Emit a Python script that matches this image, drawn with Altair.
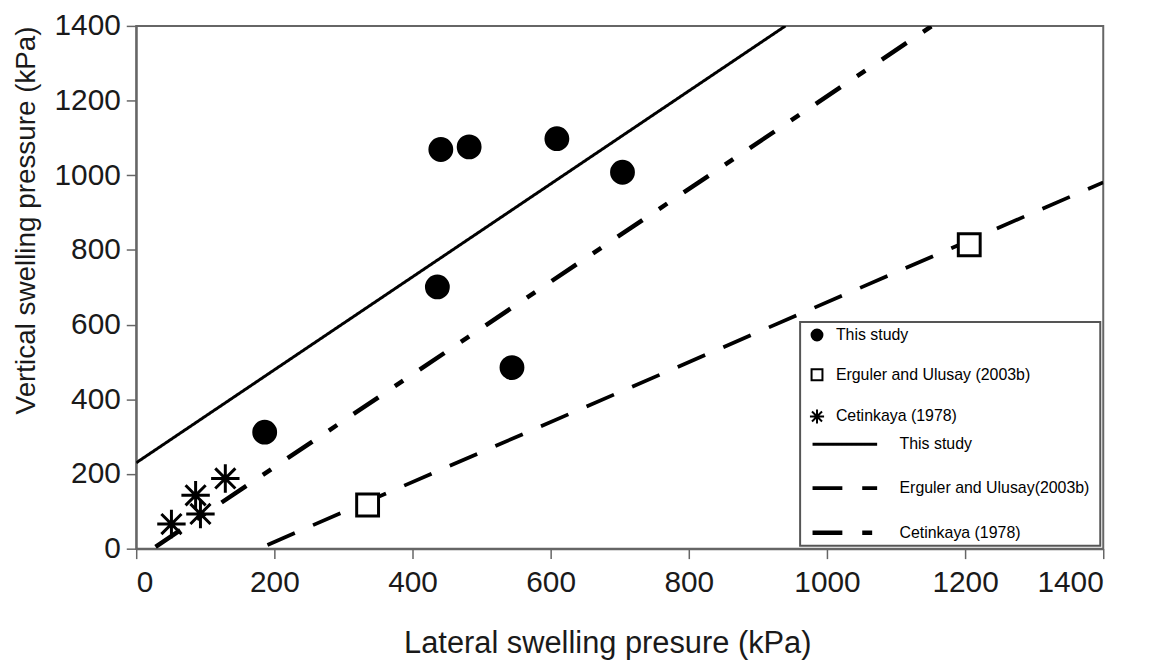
import altair as alt
import pandas as pd

# ---- data ----
this_x = [186, 441, 482, 436, 544, 609, 704]
this_y = [312, 1069, 1076, 701, 485, 1098, 1008]

erg_x = [335, 1206]
erg_y = [117, 814]

cet_x = [51, 86, 93, 129]
cet_y = [66, 143, 93, 188]

groups = ["This study", "Erguler and Ulusay (2003b)", "Cetinkaya (1978)"]
fits = ["This study", "Erguler and Ulusay(2003b)", "Cetinkaya (1978)"]

# fitted lines: start and end points
fit_x0 = [0, 190, 28]
fit_y0 = [230, 10, 5]
fit_x1 = [940, 1400, 1152]
fit_y1 = [1400, 981, 1400]

ticks = [0, 200, 400, 600, 800, 1000, 1200, 1400]

pts = pd.DataFrame({
    "x": this_x + erg_x + cet_x,
    "y": this_y + erg_y + cet_y,
    "group": [groups[0]] * len(this_x) + [groups[1]] * len(erg_x) + [groups[2]] * len(cet_x),
})
rows = []
for i, f in enumerate(fits):
    rows.append({"x": fit_x0[i], "y": fit_y0[i], "fit": f})
    rows.append({"x": fit_x1[i], "y": fit_y1[i], "fit": f})
lines = pd.DataFrame(rows)

FONT = "Liberation Sans"
star = "M-1.3,0L1.3,0M0,-1.3L0,1.3M-0.92,-0.92L0.92,0.92M-0.92,0.92L0.92,-0.92"

xs = alt.Scale(domain=[0, 1400], nice=False, zero=False)
ys = alt.Scale(domain=[0, 1400], nice=False, zero=False)

xaxis = alt.Axis(values=ticks, format="d", title="Lateral swelling presure (kPa)", grid=False,
                 labelFontSize=30, titleFontSize=31, labelPadding=9,
                 titleX=474, titleY=104, titleBaseline="alphabetic")
yaxis = alt.Axis(values=ticks, format="d", title="Vertical swelling pressure (kPa)", grid=False,
                 labelFontSize=30, titleFontSize=28, labelPadding=6,
                 titleAnchor="end", titlePadding=14)

frame = alt.Chart(alt.Data(values=[{}])).mark_rect(
    fill="white", stroke="#555555", strokeWidth=2
).encode(x=alt.value(668), x2=alt.value(970), y=alt.value(298), y2=alt.value(523))

line_layer = alt.Chart(lines).mark_line(color="black", strokeCap="butt", clip=True).encode(
    x=alt.X("x:Q", scale=xs, axis=xaxis),
    y=alt.Y("y:Q", scale=ys, axis=yaxis),
    strokeDash=alt.StrokeDash(
        "fit:O",
        scale=alt.Scale(domain=fits, range=[[1, 0], [30, 20], [30, 20, 10, 20]]),
        legend=alt.Legend(orient="none", legendX=678, legendY=387, title=None,
                          symbolType="stroke", symbolSize=4225, labelOffset=20,
                          rowPadding=1.5, labelFontSize=16, labelFont=FONT,
                          labelColor="black", symbolStrokeColor="black",
                          labelLimit=400, padding=0),
    ),
    strokeWidth=alt.StrokeWidth(
        "fit:O", scale=alt.Scale(domain=fits, range=[3, 4.5, 4.5]),
    ),
)

point_layer = alt.Chart(pts).mark_point(
    strokeWidth=3, size=484, opacity=1
).encode(
    x=alt.X("x:Q", scale=xs),
    y=alt.Y("y:Q", scale=ys),
    shape=alt.Shape("group:N", scale=alt.Scale(domain=groups, range=["circle", "square", star]),
                    legend=alt.Legend(orient="none", legendX=677, legendY=303, title=None,
                                      symbolSize=120, labelOffset=11, rowPadding=20,
                                      labelFontSize=16, labelFont=FONT, labelColor="black",
                                      symbolStrokeWidth=2, symbolStrokeColor="black",
                                      labelLimit=400, padding=0)),
    fill=alt.Fill("group:N", scale=alt.Scale(domain=groups, range=["black", "white", "transparent"])),
    stroke=alt.Stroke("group:N", scale=alt.Scale(domain=groups, range=["black", "black", "black"])),
)

chart = alt.layer(frame, line_layer, point_layer).properties(
    width=973, height=526,
    autosize=alt.AutoSizeParams(type="none"),
    padding={"left": 129, "top": 16, "right": 40, "bottom": 110},
).configure_view(
    stroke="#666666", strokeWidth=2
).configure_axis(
    domainColor="#666666", domainWidth=2, tickColor="#666666", tickWidth=1.5, tickSize=10,
    labelFont=FONT, titleFont=FONT, labelColor="#1a1a1a", titleColor="#1a1a1a",
    titleFontWeight="normal",
).configure_legend(
    labelFont=FONT
)

chart.save("out.html", embed_options={"renderer": "svg", "actions": False})
